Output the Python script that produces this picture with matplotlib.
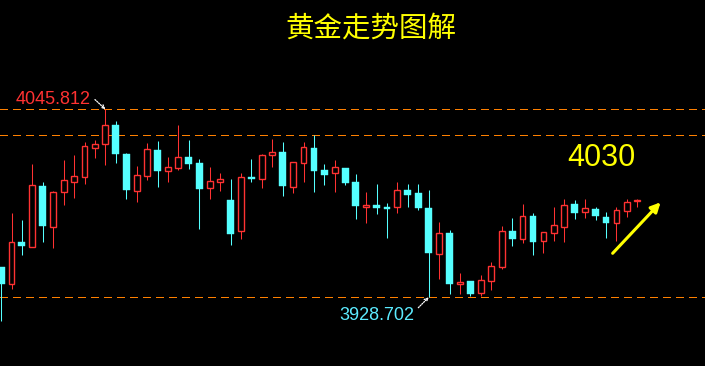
import matplotlib
matplotlib.use("Agg")
import matplotlib.pyplot as plt
import numpy as np

# ---- data (gold price candles) ----
opens = [3947.6, 3937.2, 3963.2, 3960.2, 3998.0, 3972.7, 3994.5, 4000.7, 4003.8, 4021.9,
         4024.0, 4036.0, 4018.0, 3995.1, 4004.5, 4020.5, 4007.6, 4009.4, 4016.1, 4012.4,
         3997.0, 4000.3, 3989.3, 3970.2, 4003.6, 4002.6, 4017.2, 4019.2, 3997.6, 4012.5,
         4021.7, 4008.0, 4005.9, 4009.2, 4000.5, 3984.8, 3986.2, 3985.0, 3984.8, 3995.5,
         3993.7, 3984.3, 3955.9, 3968.8, 3937.2, 3938.9, 3931.6, 3939.0, 3947.8, 3970.0,
         3965.2, 3979.3, 3964.0, 3968.9, 3972.7, 3986.8, 3982.0, 3983.7, 3978.7, 3975.2,
         3982.6, 3988.5]
highs = [3947.6, 3981.2, 3976.9, 4011.7, 4000.5, 3995.1, 4014.2, 4017.3, 4025.4, 4026.7,
         4045.812, 4038.5, 4018.6, 4010.5, 4024.8, 4026.1, 4016.1, 4036.0, 4026.7, 4014.7,
         4009.9, 4006.1, 4002.4, 4006.1, 4014.9, 4017.8, 4027.3, 4025.4, 4012.8, 4025.4,
         4029.8, 4011.7, 4014.2, 4009.2, 4005.5, 3994.3, 3999.3, 3987.3, 4000.5, 3999.3,
         3999.3, 3995.7, 3975.6, 3970.6, 3943.8, 3938.9, 3942.6, 3950.7, 3973.1, 3978.1,
         3986.8, 3981.2, 3969.2, 3984.9, 3989.9, 3989.3, 3989.9, 3984.9, 3981.8, 3984.9,
         3989.9, 3989.9]
lows = [3914.1, 3933.9, 3955.0, 3960.2, 3963.3, 3959.6, 3986.4, 3990.7, 3999.5, 4015.7,
        4011.3, 4012.5, 3990.1, 3988.3, 4002.0, 3997.6, 4000.7, 4008.2, 4008.8, 3971.4,
        3990.1, 3995.1, 3961.5, 3965.2, 4000.7, 3997.0, 4010.1, 3992.0, 3993.9, 4000.7,
        3994.5, 3998.8, 3994.5, 3998.8, 3977.7, 3975.2, 3980.8, 3965.8, 3981.4, 3985.1,
        3983.3, 3928.702, 3940.1, 3930.9, 3930.9, 3929.7, 3929.7, 3933.4, 3946.5, 3960.8,
        3962.7, 3955.2, 3956.5, 3964.0, 3963.3, 3977.7, 3978.3, 3977.0, 3965.8, 3964.0,
        3978.9, 3985.1]
closes = [3937.2, 3963.0, 3960.7, 3998.5, 3973.1, 3994.1, 4001.6, 4004.1, 4022.8, 4024.2,
          4036.0, 4018.2, 3995.7, 4004.7, 4020.9, 4007.4, 4009.9, 4015.9, 4011.9, 3996.3,
          4001.1, 4002.2, 3968.3, 4003.6, 4002.4, 4017.2, 4019.0, 3998.0, 4012.8, 4022.1,
          4007.6, 4005.1, 4009.7, 4000.1, 3985.8, 3986.0, 3984.5, 3983.7, 3995.5, 3992.4,
          3984.3, 3956.5, 3968.6, 3937.2, 3938.2, 3930.9, 3939.5, 3948.2, 3970.0, 3965.2,
          3979.3, 3963.3, 3969.2, 3973.7, 3986.2, 3981.4, 3984.3, 3979.5, 3975.0, 3983.1,
          3988.1, 3989.3]

level_lines = [4045.812, 4030.0, 3928.702]
high_label = "4045.812"
low_label = "3928.702"
target_label = "4030"
title = "黄金走势图解"

UP = "#FF3232"
DOWN = "#55FFFF"
ORANGE = "#FF8000"

fig = plt.figure(figsize=(7.05, 3.66), dpi=100, facecolor="black")
ax = fig.add_axes([0, 0, 1, 1])
ax.set_facecolor("black")
ax.set_axis_off()

n = len(opens)
x = np.arange(n)
o = np.array(opens); h = np.array(highs); l = np.array(lows); c = np.array(closes)
up = c >= o
top = np.maximum(o, c); bot = np.minimum(o, c)

# wicks
ax.vlines(x[up], top[up], h[up], color=UP, lw=0.75, zorder=2)
ax.vlines(x[up], l[up], bot[up], color=UP, lw=0.75, zorder=2)
ax.vlines(x[~up], l[~up], h[~up], color=DOWN, lw=0.75, zorder=2)

# bodies
ax.bar(x[up], top[up] - bot[up], bottom=bot[up], width=0.56,
       facecolor="black", edgecolor=UP, linewidth=1.0, zorder=3)
ax.bar(x[~up], top[~up] - bot[~up], bottom=bot[~up], width=0.66,
       facecolor=DOWN, edgecolor=DOWN, linewidth=0.3, zorder=3)

# level lines
for lv in level_lines:
    ax.axhline(lv, color=ORANGE, lw=0.72, dashes=(7, 5.5), zorder=1,
               snap=True, antialiased=False)

ax.set_xlim(-0.103, 67.49)
ax.set_ylim(3885.907, 4113.898)

# labels
ax.text(0.022, 0.716, high_label, transform=ax.transAxes, color=UP,
        fontsize=13, family="Liberation Sans", ha="left", va="baseline")
ax.text(0.481, 0.126, low_label, transform=ax.transAxes, color="#5CEBFF",
        fontsize=13, family="Liberation Sans", ha="left", va="baseline")
ax.text(0.853, 0.546, target_label, transform=ax.transAxes, color="#FFFF00",
        fontsize=22, family="Liberation Sans", ha="center", va="baseline")
ax.text(0.526, 0.921, title, transform=ax.transAxes, color="#FFFF00",
        fontsize=20.5, family=["Noto Sans CJK SC", "DejaVu Sans"], ha="center", va="center")

# pointer arrows to the marked high and low
i_hi = int(np.argmin(np.abs(h - level_lines[0])))
i_lo = int(np.argmin(np.abs(l - level_lines[2])))
ax.annotate("", xy=(i_hi, h[i_hi]), xytext=(-7.5, 7), textcoords="offset points",
            arrowprops=dict(arrowstyle="->", color="white", lw=0.9, linestyle=(0, (1, 1)),
                            shrinkA=0, shrinkB=0, mutation_scale=6))
ax.annotate("", xy=(i_lo, l[i_lo]), xytext=(-7.5, -7.5), textcoords="offset points",
            arrowprops=dict(arrowstyle="->", color="white", lw=0.9, linestyle=(0, (1, 1)),
                            shrinkA=0, shrinkB=0, mutation_scale=6))

# yellow trend arrow
ax.annotate("", xy=(0.937, 1 - 202.3 / 366), xytext=(0.869, 1 - 253.3 / 366),
            xycoords="axes fraction", textcoords="axes fraction",
            arrowprops=dict(arrowstyle="-|>", color="#FFFF00", lw=2.2,
                            shrinkA=0, shrinkB=0, mutation_scale=14))

fig.savefig("out.png", dpi=100, facecolor="black")
